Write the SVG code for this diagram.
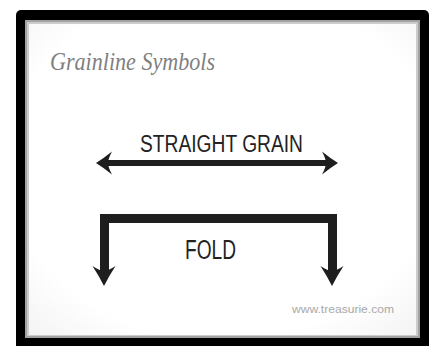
<svg xmlns="http://www.w3.org/2000/svg" width="433" height="346" viewBox="0 0 433 346">
  <defs>
    <style>
      .ink { fill: #1e1e1e; }
      .shaft { fill: none; stroke: #1e1e1e; stroke-linejoin: miter; }
      .label { font-family: "Liberation Sans", Arial, sans-serif; fill: #222; }
      .title { font-family: "Liberation Serif", "Times New Roman", serif; font-style: italic; fill: #7f7f7f; }
      .mark { font-family: "Liberation Sans", Arial, sans-serif; fill: #a8a8a8; }
    </style>
    <path id="head" d="M0,0 Q-8,-5 -16,-11.5 Q-12,-4 -12,0 Q-12,4 -16,11.5 Q-8,5 0,0 Z"/>
    <radialGradient id="paper" cx="0.5" cy="0.45" r="0.8">
      <stop offset="0.7" stop-color="#ffffff"/>
      <stop offset="1" stop-color="#f0f0f0"/>
    </radialGradient>
  </defs>

  <rect x="0" y="0" width="433" height="346" fill="#ffffff"/>

  <g id="frame">
    <rect x="16" y="10" width="413" height="340" rx="5" fill="#000"/>
    <rect x="25" y="20" width="395" height="318" fill="#a2a2a2"/>
    <rect x="27" y="22" width="391" height="314" fill="#cccccc"/>
    <rect x="29" y="24" width="387" height="311" fill="url(#paper)"/>
  </g>

  <g id="title">
    <text class="title" x="50" y="70" font-size="26" textLength="165" lengthAdjust="spacingAndGlyphs">Grainline Symbols</text>
  </g>

  <g id="straight-grain-label">
    <text class="label" x="140" y="152" font-size="23" textLength="163" lengthAdjust="spacingAndGlyphs">STRAIGHT GRAIN</text>
  </g>

  <g id="fold-label">
    <text class="label" x="185" y="259" font-size="27" textLength="51" lengthAdjust="spacingAndGlyphs">FOLD</text>
  </g>

  <g id="watermark">
    <text class="mark" x="292" y="313" font-size="10" textLength="102" lengthAdjust="spacingAndGlyphs">www.treasurie.com</text>
  </g>

  <g id="connectors">
    <g id="straight-grain-arrow">
      <rect class="ink" x="106" y="160" width="222" height="6"/>
      <use href="#head" class="ink" transform="translate(338,163)"/>
      <use href="#head" class="ink" transform="translate(96,163) rotate(180)"/>
    </g>
    <g id="fold-arrow">
      <path class="shaft" stroke-width="9" d="M104.5,275 V218.5 H332.5 V275"/>
      <use href="#head" class="ink" transform="translate(104,286) rotate(90) scale(1.25,1)"/>
      <use href="#head" class="ink" transform="translate(332,286) rotate(90) scale(1.25,1)"/>
    </g>
  </g>
</svg>
